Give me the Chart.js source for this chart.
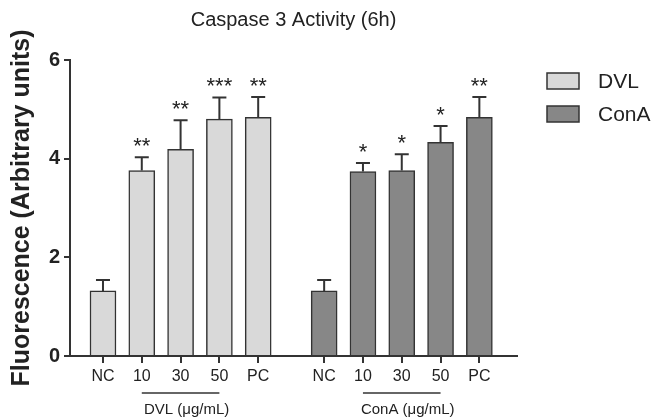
<!DOCTYPE html>
<html>
<head>
<meta charset="utf-8">
<script src="https://cdn.jsdelivr.net/npm/chart.js@4"></script>
<style>
  html, body { margin: 0; padding: 0; background: #fff; }
  #wrap { width: 671px; height: 418px; }
</style>
</head>
<body>
<div id="wrap"><canvas id="barChart"></canvas></div>
<script>
const doses = ['NC', '10', '30', '50', 'PC'];
const dvlMean = [1.32, 3.76, 4.19, 4.80, 4.84];
const dvlErr = [0.22, 0.27, 0.59, 0.44, 0.41];
const dvlStars = ['', '**', '**', '***', '**'];
const conaMean = [1.32, 3.74, 3.76, 4.33, 4.84];
const conaErr = [0.22, 0.17, 0.33, 0.33, 0.41];
const conaStars = ['', '*', '*', '*', '**'];
const seriesNames = ['DVL', 'ConA'];
const groupNames = ['DVL (μg/mL)', 'ConA (μg/mL)'];

const groupOffset = 5.7; // second group starts 5.7 slots after the first
const FONT = "'Liberation Sans', Arial, sans-serif";
const INK = '#222';
const LINE = '#333';

const dvlPos = doses.map((d, i) => i);
const conaPos = doses.map((d, i) => i + groupOffset);
const tickPos = [...dvlPos, ...conaPos];
const tickText = [...doses, ...doses];

// error bars + significance stars
const errorBars = {
  id: 'errorBars',
  afterDatasetsDraw(chart) {
    const { ctx, scales: { y } } = chart;
    ctx.save();
    ctx.strokeStyle = LINE;
    ctx.lineWidth = 2;
    ctx.fillStyle = INK;
    ctx.font = '22px ' + FONT;
    ctx.textAlign = 'center';
    ctx.textBaseline = 'alphabetic';
    chart.data.datasets.forEach((ds, di) => {
      chart.getDatasetMeta(di).data.forEach((bar, i) => {
        const top = y.getPixelForValue(ds.data[i].y + ds.err[i]);
        ctx.beginPath();
        ctx.moveTo(bar.x, bar.y);
        ctx.lineTo(bar.x, top);
        ctx.moveTo(bar.x - 7, top);
        ctx.lineTo(bar.x + 7, top);
        ctx.stroke();
        if (ds.stars[i]) ctx.fillText(ds.stars[i], bar.x, top - 4);
      });
    });
    ctx.restore();
  }
};

// group captions under the dose ticks + legend on the right
const extras = {
  id: 'extras',
  afterDraw(chart) {
    const { ctx, chartArea, scales: { x } } = chart;
    ctx.save();
    ctx.strokeStyle = LINE;
    ctx.lineWidth = 1.5;
    ctx.fillStyle = INK;
    ctx.font = '15px ' + FONT;
    ctx.textAlign = 'center';
    ctx.textBaseline = 'middle';
    groupNames.forEach((name, g) => {
      const x1 = x.getPixelForValue(tickPos[g * 5 + 1]);
      const x2 = x.getPixelForValue(tickPos[g * 5 + 3]);
      ctx.beginPath();
      ctx.moveTo(x1, 393);
      ctx.lineTo(x2, 393);
      ctx.stroke();
      ctx.fillText(name, (x1 + x2) / 2 + 6, 410);
    });

    ctx.font = '21px ' + FONT;
    ctx.textAlign = 'left';
    chart.data.datasets.forEach((ds, i) => {
      const bx = chartArea.right + 30;
      const cy = chartArea.top + 21 + i * 33;
      ctx.fillStyle = ds.backgroundColor;
      ctx.fillRect(bx, cy - 8, 32, 16);
      ctx.strokeStyle = LINE;
      ctx.lineWidth = 1.5;
      ctx.strokeRect(bx, cy - 8, 32, 16);
      ctx.fillStyle = INK;
      ctx.fillText(ds.label, bx + 51, cy + 1);
    });
    ctx.restore();
  }
};

const ctx = document.getElementById('barChart');
new Chart(ctx, {
  type: 'bar',
  data: {
    datasets: [
      {
        label: seriesNames[0],
        data: dvlPos.map((p, i) => ({ x: p, y: dvlMean[i] })),
        err: dvlErr,
        stars: dvlStars,
        backgroundColor: '#d9d9d9'
      },
      {
        label: seriesNames[1],
        data: conaPos.map((p, i) => ({ x: p, y: conaMean[i] })),
        err: conaErr,
        stars: conaStars,
        backgroundColor: '#878787'
      }
    ]
  },
  options: {
    responsive: true,
    maintainAspectRatio: false,
    animation: false,
    devicePixelRatio: 1,
    layout: { padding: { left: 0, right: 154, top: 0, bottom: 0 } },
    datasets: {
      bar: {
        grouped: false,
        barThickness: 26,
        borderColor: LINE,
        borderWidth: 1.5
      }
    },
    scales: {
      x: {
        type: 'linear',
        min: -0.85,
        max: 10.67,
        offset: false,
        afterBuildTicks: axis => { axis.ticks = tickPos.map(v => ({ value: v })); },
        afterFit: scale => { scale.height = 62; },
        ticks: {
          autoSkip: false,
          maxRotation: 0,
          padding: 4,
          color: INK,
          font: { family: FONT, size: 16 },
          callback: (v, i) => tickText[i]
        },
        grid: { offset: false, drawOnChartArea: false, tickLength: 7, color: LINE, lineWidth: 2 },
        border: { color: LINE, width: 2 }
      },
      y: {
        min: 0,
        max: 6,
        afterFit: scale => { scale.width = 70; },
        ticks: {
          stepSize: 2,
          padding: 4,
          color: INK,
          font: { family: FONT, size: 20, weight: 'bold' }
        },
        grid: { drawOnChartArea: false, tickLength: 6, color: LINE, lineWidth: 2 },
        border: { color: LINE, width: 2 },
        title: {
          display: true,
          text: 'Fluorescence (Arbitrary units)',
          color: INK,
          font: { family: FONT, size: 25, weight: 'bold' },
          padding: { top: 7, bottom: 0 }
        }
      }
    },
    plugins: {
      legend: { display: false },
      tooltip: { enabled: false },
      title: {
        display: true,
        fullSize: false,
        text: 'Caspase 3 Activity (6h)',
        color: INK,
        font: { family: FONT, size: 20, weight: 'normal' },
        padding: { top: 8, bottom: 28 }
      }
    }
  },
  plugins: [errorBars, extras]
});
</script>
</body>
</html>
